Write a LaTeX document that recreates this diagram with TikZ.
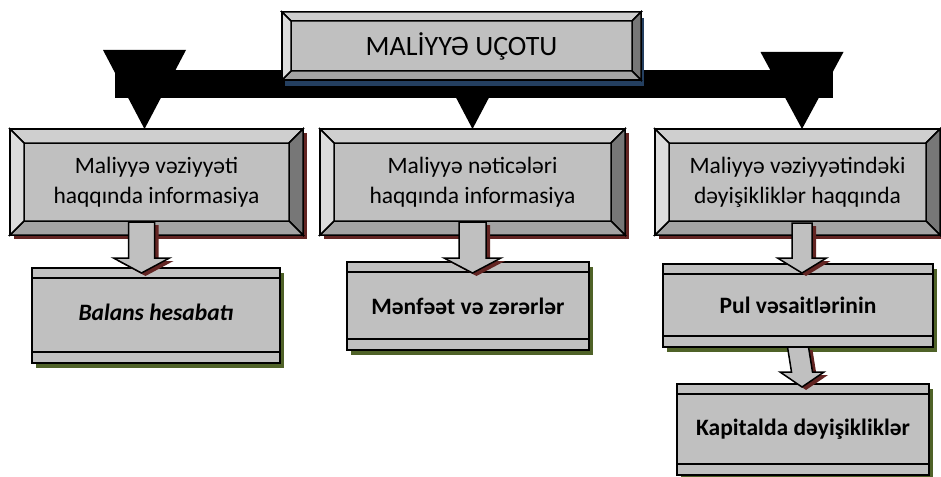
\documentclass[tikz,border=0pt]{standalone}
\usepackage{fontspec}
\setmainfont{Carlito}
\usepackage{tikz}
\usetikzlibrary{calc}
\usetikzlibrary{shadows}
\usepackage{xcolor}

\definecolor{midgray}{HTML}{C0C0C0}
\definecolor{topgray}{HTML}{CFCFCF}
\definecolor{leftgray}{HTML}{DDDDDD}
\definecolor{rightgray}{HTML}{777777}
\definecolor{bottomgray}{HTML}{A3A3A3}
\definecolor{darkred}{HTML}{632523}
\definecolor{navyshadow}{HTML}{243F60}
\definecolor{oliveshadow}{HTML}{4F6228}

\tikzset{
  face/.style={draw=black, line width=1.5pt, line join=miter},
  framebox/.style={rectangle, fill=midgray, draw=black, line width=1.5pt, outer sep=0pt, inner sep=0pt, align=center},
  bandbox/.style={framebox, general shadow={fill=oliveshadow, shadow xshift=4pt, shadow yshift=-5pt}},
  redshadow/.style={general shadow={fill=darkred, shadow xshift=4pt, shadow yshift=-4pt}},
  arrowbody/.style={fill=midgray, draw=black, line width=1.5pt, general shadow={fill=darkred, shadow xshift=4pt, shadow yshift=-3pt}}
}

% bevel faces round a framebox node
\newcommand{\bevel}[2]{%
  \coordinate (#1-a) at ($(#1.north west)+(#2,#2)$);
  \coordinate (#1-b) at ($(#1.north east)+(-#2,#2)$);
  \coordinate (#1-c) at ($(#1.south east)+(-#2,-#2)$);
  \coordinate (#1-d) at ($(#1.south west)+(#2,-#2)$);
  \filldraw[face, fill=topgray] (#1.north west) -- (#1.north east) -- (#1-b) -- (#1-a) -- cycle;
  \filldraw[face, fill=rightgray] (#1.north east) -- (#1.south east) -- (#1-c) -- (#1-b) -- cycle;
  \filldraw[face, fill=bottomgray] (#1.south east) -- (#1.south west) -- (#1-d) -- (#1-c) -- cycle;
  \filldraw[face, fill=leftgray] (#1.south west) -- (#1.north west) -- (#1-a) -- (#1-d) -- cycle;
}

% two thin bands of a bandbox node
\newcommand{\bands}[1]{%
  \draw[face] ($(#1.north west)+(0,10)$) -- ($(#1.north east)+(0,10)$);
  \draw[face] ($(#1.south west)+(0,-11)$) -- ($(#1.south east)+(0,-11)$);
}

% block arrow: start, tip, half shaft, half head
\newcommand{\blockarrow}[4]{%
  \filldraw[arrowbody] ($(#1)+(-#3,0)$) -- ($(#2)+(-#3,-15)$) -- ($(#2)+(-#4,-15)$) -- (#2)
    -- ($(#2)+(#4,-15)$) -- ($(#2)+(#3,-15)$) -- ($(#1)+(#3,0)$) -- cycle;
}

\begin{document}
\begin{tikzpicture}[x=1pt, y=-1pt]
\useasboundingbox (0,0) rectangle (941,476);

\node[framebox, redshadow, minimum width=293pt, minimum height=106pt,
  font=\fontsize{23.5}{30}\selectfont] (info1) at (156.5,182) {Maliyyə vəziyyəti\\haqqında informasiya};
\node[framebox, redshadow, minimum width=305pt, minimum height=106pt,
  font=\fontsize{23.5}{30}\selectfont] (info2) at (472.5,182) {Maliyyə nəticələri\\haqqında informasiya};
\node[framebox, redshadow, minimum width=285pt, minimum height=106pt,
  font=\fontsize{23.5}{30}\selectfont] (info3) at (797.5,182) {Maliyyə vəziyyətindəki\\dəyişikliklər haqqında};
\bevel{info1}{14}
\bevel{info2}{14}
\bevel{info3}{14}

\coordinate (tip1) at ([xshift=-12pt]info1.north);
\coordinate (tip2) at (info2.north);
\coordinate (tip3) at ([xshift=4.5pt]info3.north);
\coordinate (barL) at (115,70);
\coordinate (barR) at (833,98);

\fill (barL) rectangle (barR);
\fill (tip1) -- +(-41.5,-79) -- +(41.5,-79) -- cycle;
\fill (tip2) -- +(-41.5,-79) -- +(41.5,-79) -- cycle;
\fill (tip3) -- +(-41.5,-77) -- +(41.5,-77) -- cycle;

\node[framebox, general shadow={fill=navyshadow, shadow xshift=3pt, shadow yshift=-6pt},
  minimum width=359pt, minimum height=68pt, font=\fontsize{28}{34}\selectfont] (root) at (461.5,46) {MALİYYƏ UÇOTU};
\bevel{root}{9}

\node[bandbox, minimum width=248pt, minimum height=95pt, text height=17pt, text depth=8pt,
  font=\fontsize{23.5}{30}\selectfont\bfseries\itshape] (bal) at (156,315.5) {Balans hesabatı};
\node[bandbox, minimum width=242pt, minimum height=88pt,
  font=\fontsize{23.5}{30}\selectfont\bfseries] (men) at (468,306) {Mənfəət və zərərlər};
\node[bandbox, minimum width=270pt, minimum height=83pt,
  font=\fontsize{23.5}{30}\selectfont\bfseries] (pul) at (798,305.5) {Pul vəsaitlərinin};
\node[bandbox, minimum width=252pt, minimum height=91pt,
  font=\fontsize{23.5}{30}\selectfont\bfseries] (kap) at (803,429.5) {Kapitalda dəyişikliklər};
\bands{bal}
\bands{men}
\bands{pul}
\bands{kap}

\coordinate (a1s) at ($(info1.south)+(-15,-13)$);
\coordinate (a1e) at ($(bal.north)+(-14.5,5)$);
\coordinate (a2s) at ($(info2.south)+(0,-13)$);
\coordinate (a2e) at ($(men.north)+(4.5,11)$);
\coordinate (a3s) at ($(info3.south)+(4.5,-12)$);
\coordinate (a3e) at ($(pul.north)+(4,9)$);
\coordinate (a4s) at (pul.south);
\coordinate (a4e) at ($(kap.north)+(-1,3)$);

\blockarrow{a1s}{a1e}{13}{28}
\blockarrow{a2s}{a2e}{13.5}{28.5}
\blockarrow{a3s}{a3e}{10}{24.5}
\blockarrow{a4s}{a4e}{10.5}{22}

\end{tikzpicture}
\end{document}
